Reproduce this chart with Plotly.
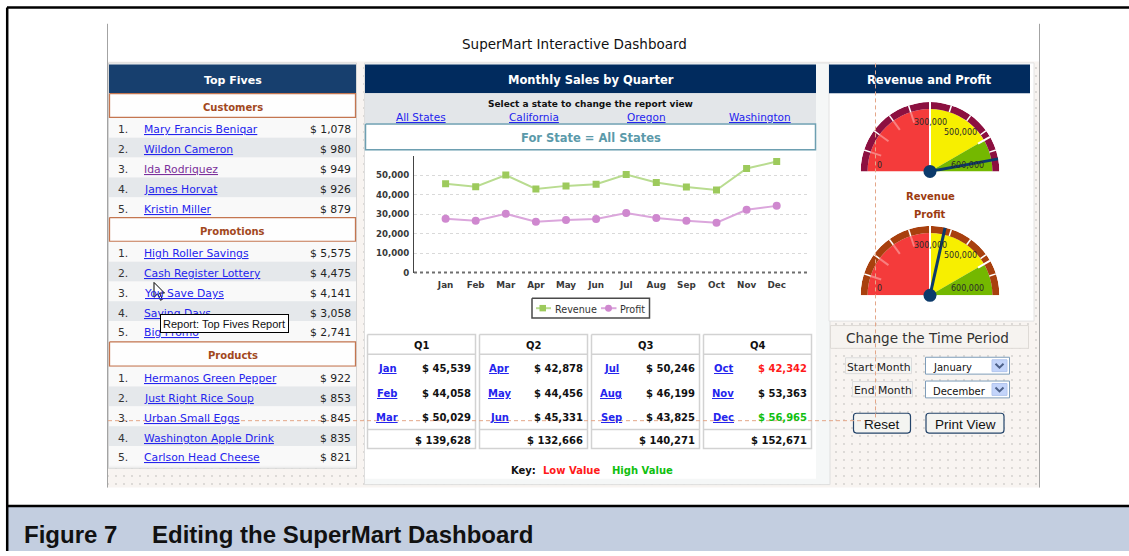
import plotly.graph_objects as go

W, H = 1129, 556

# ---------------- data ----------------
months = ["Jan", "Feb", "Mar", "Apr", "May", "Jun", "Jul", "Aug", "Sep", "Oct", "Nov", "Dec"]
revenue = [45539, 44058, 50029, 42878, 44456, 45331, 50246, 46199, 43825, 42342, 53363, 56965]
profit = [27600, 26600, 30150, 26100, 26950, 27450, 30500, 27950, 26600, 25600, 32200, 34200]
quarters = ["Q1", "Q2", "Q3", "Q4"]
quarter_totals = [139628, 132666, 140271, 152671]
customers = ["Mary Francis Beniqar", "Wildon Cameron", "Ida Rodriquez", "James Horvat", "Kristin Miller"]
customer_sales = [1078, 980, 949, 926, 879]
promotions = ["High Roller Savings", "Cash Register Lottery", "You Save Days", "Saving Days", "Big Promo"]
promotion_sales = [5575, 4475, 4141, 3058, 2741]
products = ["Hermanos Green Pepper", "Just Right Rice Soup", "Urban Small Eggs",
            "Washington Apple Drink", "Carlson Head Cheese"]
product_sales = [922, 853, 845, 835, 821]
states = ["All States", "California", "Oregon", "Washington"]
y_ticks = [0, 10000, 20000, 30000, 40000, 50000]
gauge_max = 600000
gauge_bounds = [0, 300000, 500000, 600000]
gauge_labels = ["0", "300,000", "500,000", "600,000"]
gauge_minor_step = 60000
revenue_total = sum(quarter_totals)
profit_total = sum(profit)

# ---------------- styles ----------------
VERD = "DejaVu Sans, Verdana, sans-serif"
ARIAL = "Liberation Sans, Arial, sans-serif"
NAVY_L = "#173f6e"
NAVY = "#012b5e"
LINK = "#2424ee"
BROWN = "#a2481d"
SECT_BORDER = "#c47650"
DY = 1.5  # visual centring correction for annotation text

fig = go.Figure()
annots = []
shapes = []


def rect(x0, y0, x1, y1, fill, line=None, lw=1.0, pattern=None):
    fig.add_trace(go.Scatter(
        x=[x0, x1, x1, x0, x0], y=[y0, y0, y1, y1, y0], mode="lines", fill="toself",
        fillcolor=fill, fillpattern=pattern,
        line=dict(color=line if line else "rgba(0,0,0,0)", width=lw if line else 0),
        hoverinfo="skip", showlegend=False, xaxis="x", yaxis="y"))


def txt(x, y, s, size=10.8, color="#222", bold=False, anchor="left", family=VERD, under=False, dy=DY):
    annots.append(dict(
        x=x, y=y + dy, xref="x", yref="y", text=s, showarrow=False, xanchor=anchor, yanchor="middle",
        borderpad=0,
        font=dict(family=family, size=size, color=color, weight="bold" if bold else "normal",
                  lineposition="under" if under else "none")))


def seg(x0, y0, x1, y1, color, width=1.0, dash="solid"):
    shapes.append(dict(type="line", x0=x0, y0=y0, x1=x1, y1=y1, xref="x", yref="y",
                       line=dict(color=color, width=width, dash=dash), layer="above"))


def rrect(x0, y0, x1, y1, r, fill, line, lw=1.0):
    p = (f"M {x0+r},{y0} L {x1-r},{y0} Q {x1},{y0} {x1},{y0+r} L {x1},{y1-r} Q {x1},{y1} {x1-r},{y1} "
         f"L {x0+r},{y1} Q {x0},{y1} {x0},{y1-r} L {x0},{y0+r} Q {x0},{y0} {x0+r},{y0} Z")
    shapes.append(dict(type="path", path=p, xref="x", yref="y", fillcolor=fill,
                       line=dict(color=line, width=lw), layer="above"))


def money(v):
    return f"$ {v:,}"


# ---------------- page background pieces ----------------
rect(108, 62, 1039, 492, "#f8f4f1",
     pattern=dict(shape=".", size=8, solidity=0.04, fgcolor="#a9a6a4", bgcolor="#f8f4f1"))

# caption bar
rect(7, 511, 1129, 556, "#c3cee0")

# ---------------- left panel : Top Fives ----------------
rect(108.5, 63.5, 356.5, 472.5, "#f3f3f3", "#d6d6d6", 1)
rect(109, 65, 356, 94, NAVY_L)
txt(232.5, 79.5, "Top Fives", size=11, color="white", bold=True, anchor="center")

sections = [("Customers", customers, customer_sales, 94.5, 119),
            ("Promotions", promotions, promotion_sales, 219.5, 244),
            ("Products", products, product_sales, 345, 370)]
visited = {("Customers", 2)}
for title, names, vals, by, ry in sections:
    rect(109.5, by, 355.5, ry - 0.5, "#fefefe", SECT_BORDER, 1.3)
    txt(232.5, (by + ry) / 2, title, size=10, color=BROWN, bold=True, anchor="center")
    for i, (n, v) in enumerate(zip(names, vals)):
        y0 = ry + 20 * i
        rect(109, y0, 356, y0 + 20, "#f9f9f9" if i % 2 == 0 else "#e5e8eb")
        yc = y0 + 10.5
        txt(117, yc, f"{i+1}.", size=10.8, color="#333")
        col = "#7b2f9b" if (title, i) in visited else LINK
        txt(143, yc, n, size=10.8, color=col, under=True)
        txt(351.5, yc, money(v), size=10.8, color="#222", anchor="right")

# ---------------- middle panel ----------------
rect(364.5, 63.5, 830, 489, "#f5f7f7", "#dedede", 1)
rect(365, 65, 816, 94, NAVY)
txt(590.5, 79.5, "Monthly Sales by Quarter", size=11.5, color="white", bold=True, anchor="center")
rect(365, 94, 816, 124, "#e3e6e9")
txt(590.5, 103, "Select a state to change the report view", size=9, color="#111", bold=True, anchor="center")
for s, xc in zip(states, [421, 534, 646.7, 760]):
    txt(xc, 117, s, size=10.5, color=LINK, anchor="center", under=True)
rect(365, 152, 816, 483, "white")
rect(365.5, 125, 815.5, 151, "white", "#6d9fb1", 1.5)
txt(590.5, 138, "For State = All States", size=11.5, color="#5b9aaa", bold=True, anchor="center")

# legend box (manual)
rect(532, 301, 649.5, 321, "white", "#4a4a4a", 1.5)
seg(536, 311, 551, 311, "#b9dc90", 2)
shapes.append(dict(type="rect", x0=539.5, y0=307.7, x1=546, y1=314.2, xref="x", yref="y",
                   fillcolor="#9dca5c", line=dict(width=0), layer="above"))
txt(553.5, 311, "Revenue", size=9.6, color="#333")
seg(601, 311, 616.5, 311, "#dba6dc", 2)
shapes.append(dict(type="circle", x0=605, y0=307.5, x1=612, y1=314.5, xref="x", yref="y",
                   fillcolor="#cf88cf", line=dict(width=0), layer="above"))
txt(618.5, 311, "Profit", size=9.6, color="#333")

# quarter tables
q_left = [367.5, 479.5, 591.5, 703.5]
qw = 108
row_y = [370.5, 395.5, 420]
lo_i = revenue.index(min(revenue))
hi_i = revenue.index(max(revenue))
for qi, (q, tot) in enumerate(zip(quarters, quarter_totals)):
    x0 = q_left[qi]
    x1 = x0 + qw
    rect(x0, 337.5, x1, 452.5, "white", "#d2d2d2", 1.5)
    seg(x0, 357.5, x1, 357.5, "#d2d2d2", 1.5)
    seg(x0, 433.5, x1, 433.5, "#d2d2d2", 1.5)
    txt((x0 + x1) / 2, 347.5, q, size=10, color="#111", bold=True, anchor="center")
    for j in range(3):
        mi = qi * 3 + j
        txt(x0 + 19.5, row_y[j], months[mi], size=10, color=LINK, bold=True, anchor="center", under=True)
        col = "#ff1a1a" if mi == lo_i else ("#10c010" if mi == hi_i else "#111")
        txt(x1 - 3.5, row_y[j], money(revenue[mi]), size=10, color=col, bold=True, anchor="right")
    txt(x1 - 3.5, 442.5, money(tot), size=10, color="#111", bold=True, anchor="right")

txt(510, 473.5, "Key:", size=10, color="#111", bold=True)
txt(541.5, 473.5, "Low Value", size=10, color="#ff1a1a", bold=True)
txt(611, 473.5, "High Value", size=10, color="#10c010", bold=True)

# ---------------- right panel ----------------
rect(829, 63.5, 1034, 324, "white", "#e2e2e2", 1)
rect(829, 65, 1030, 94, NAVY)
txt(929.5, 79.5, "Revenue and Profit", size=11.5, color="white", bold=True, anchor="center")
txt(930, 197, "Revenue", size=10, color="#9c3b10", bold=True, anchor="center")
txt(930, 214.5, "Profit", size=10, color="#9c3b10", bold=True, anchor="center")

rect(830.5, 328.5, 1028.5, 351.5, "#f6f3f0", "#dedad6", 1)
txt(845, 340, "Change the Time Period", size=13.6, color="#333")
rect(845.5, 361, 911.5, 377, "#f6f4f2", "#dcdcdc", 1)
txt(878.5, 369, "Start Month", size=10.8, color="#222", anchor="center")
rect(852.5, 385, 912.5, 400.5, "#f6f4f2", "#dcdcdc", 1)
txt(882.5, 392.7, "End Month", size=10.8, color="#222", anchor="center")
for (yy0, yy1, label) in [(360.5, 377.5, "January"), (384.5, 401.5, "December")]:
    rect(925.5, yy0, 1009.5, yy1, "white", "#7f9db9", 1)
    rect(992, yy0 + 2.5, 1007, yy1 - 2.5, "#c3d4fa", "#b3c6ee", 1)
    shapes.append(dict(type="path", path=f"M 995.5,{(yy0+yy1)/2-2} L 999.5,{(yy0+yy1)/2+2} L 1003.5,{(yy0+yy1)/2-2}",
                       xref="x", yref="y", line=dict(color="#4d6189", width=2), layer="above"))
    txt(932, (yy0 + yy1) / 2 + 0.5, label, size=10, color="#111")

rrect(853.5, 417, 910.5, 437, 3, "#f4f4f1", "#24446a", 1.2)
rrect(926, 417, 1004, 437, 3, "#f4f4f1", "#24446a", 1.2)
txt(881.5, 427, "Reset", size=13.5, color="#111", anchor="center", family=ARIAL)
txt(965, 427, "Print View", size=13.5, color="#111", anchor="center", family=ARIAL)

# ---------------- line chart ----------------
fig.add_trace(go.Scatter(x=months, y=revenue, mode="lines+markers", name="Revenue",
                         line=dict(color="#b9dc90", width=2),
                         marker=dict(symbol="square", size=7, color="#9dca5c"),
                         xaxis="x2", yaxis="y2", hoverinfo="skip", showlegend=False))
fig.add_trace(go.Scatter(x=months, y=profit, mode="lines+markers", name="Profit",
                         line=dict(color="#dba6dc", width=2),
                         marker=dict(symbol="circle", size=8, color="#cf88cf"),
                         xaxis="x2", yaxis="y2", hoverinfo="skip", showlegend=False))
seg(414, 275, 808, 275, "#6e6e6e", 2, "dot")

# ---------------- gauges ----------------
zone_colors = ["#f43b3b", "#f7ef00", "#74b800"]
k = 180.0 / gauge_max


def gauge(sub, value, rim):
    lo = gauge_bounds[:-1]
    hi = gauge_bounds[1:]
    fig.add_trace(go.Barpolar(r=[0.9] * len(lo), base=[0] * len(lo),
                              theta=[(a + b) / 2 * k for a, b in zip(lo, hi)],
                              width=[(b - a) * k for a, b in zip(lo, hi)],
                              marker=dict(color=zone_colors, line=dict(width=0)),
                              subplot=sub, hoverinfo="skip", showlegend=False))
    fig.add_trace(go.Barpolar(r=[0.1], base=[0.9], theta=[gauge_max / 2 * k], width=[gauge_max * k],
                              marker=dict(color=rim, line=dict(width=0)),
                              subplot=sub, hoverinfo="skip", showlegend=False))
    rr, tt, rs, ts = [], [], [], []
    v = gauge_minor_step
    while v < gauge_max:
        rr += [0.9, 1.0, None]
        tt += [v * k, v * k, None]
        if v < gauge_bounds[1]:
            rs += [0.74, 0.9, None]
            ts += [v * k, v * k, None]
        v += gauge_minor_step
    fig.add_trace(go.Scatterpolar(r=rs, theta=ts, mode="lines", line=dict(color="rgba(255,255,255,0.35)", width=2),
                                  subplot=sub, hoverinfo="skip", showlegend=False))
    fig.add_trace(go.Scatterpolar(r=rr, theta=tt, mode="lines", line=dict(color="white", width=1.5),
                                  subplot=sub, hoverinfo="skip", showlegend=False))
    fig.add_trace(go.Scatterpolar(r=[0.0, 1.0, None, 0.8, 1.0], theta=[gauge_bounds[1] * k] * 2 + [None] + [gauge_bounds[2] * k] * 2,
                                  mode="lines", line=dict(color="white", width=2),
                                  subplot=sub, hoverinfo="skip", showlegend=False, connectgaps=False))
    fig.add_trace(go.Scatterpolar(r=[0, 1.0], theta=[value * k, value * k], mode="lines",
                                  line=dict(color="#0c3a6b", width=3),
                                  subplot=sub, hoverinfo="skip", showlegend=False))
    fig.add_trace(go.Scatterpolar(r=[0], theta=[0], mode="markers",
                                  marker=dict(size=13, color="#0c3a6b"),
                                  subplot=sub, hoverinfo="skip", showlegend=False))


gauge("polar", revenue_total, "#8c1040")
gauge("polar2", profit_total, "#a8400e")

label_pos = [(879.5, 0), (930, -43.5), (960, -34), (967, 0)]
for gy in [166, 290]:
    for (lx, dy), lab in zip(label_pos, gauge_labels):
        txt(lx, gy + dy, lab, size=8, color="#2a2a2a", anchor="center")

# ---------------- frame, title, guides ----------------
txt(574, 43, "SuperMart Interactive Dashboard", size=13.5, color="#111", anchor="center")
seg(107.5, 24, 107.5, 492, "#a3a3a3", 1)
seg(1039.5, 24, 1039.5, 492, "#a3a3a3", 1)
seg(108, 424.5, 875.5, 424.5, "#e4a688", 1, "4px,3px")
seg(875.5, 64, 875.5, 424.5, "#e4a688", 1, "4px,3px")

# tooltip + cursor
pc = "M 154,285 L 154,300 L 157.5,296.5 L 160.5,303 L 162.5,302 L 159.5,295.7 L 164.5,295.7 Z"
shapes.append(dict(type="path", path=pc, xref="x", yref="y", fillcolor="white",
                   line=dict(color="black", width=1), layer="above"))
annots.append(dict(x=160, y=326.5, xref="x", yref="y", text="Report: Top Fives Report", showarrow=False,
                   xanchor="left", yanchor="middle", bgcolor="white", bordercolor="black", borderwidth=1,
                   borderpad=2, width=123, height=13, align="left",
                   font=dict(family=ARIAL, size=11, color="#111")))

# outer border (top and left only) & caption
seg(7, 7.5, 1129, 7.5, "black", 2.5)
seg(7.2, 7.5, 7.2, 556, "black", 2.5)
seg(7, 510.5, 1129, 510.5, "black", 2.5)
txt(23, 536, "Figure 7", size=24, color="#111", bold=True, family=ARIAL, dy=3.5)
txt(151, 536, "Editing the SuperMart Dashboard", size=24, color="#111", bold=True, family=ARIAL, dy=3.5)

# ---------------- layout ----------------
polar_common = dict(sector=[0, 180], bgcolor="rgba(0,0,0,0)", hole=0, barmode="overlay",
                    radialaxis=dict(range=[0, 1], visible=False),
                    angularaxis=dict(visible=False, rotation=180, direction="clockwise"))
fig.update_layout(
    width=W, height=H, margin=dict(l=0, r=0, t=0, b=0),
    paper_bgcolor="white", plot_bgcolor="rgba(0,0,0,0)", showlegend=False, dragmode=False,
    xaxis=dict(domain=[0, 1], range=[0, W], visible=False, fixedrange=True),
    yaxis=dict(domain=[0, 1], range=[H, 0], visible=False, fixedrange=True),
    xaxis2=dict(domain=[414 / W, 808 / W], anchor="y2", type="category", range=[-1.05, 12.04],
                showgrid=False, zeroline=False, showline=False, ticks="", ticklabelstandoff=6,
                tickfont=dict(family=VERD, size=8.8, color="#3a3a3a", weight="bold"), fixedrange=True),
    yaxis2=dict(domain=[1 - 275 / H, 1 - 157 / H], anchor="x2", range=[0, 60000],
                tickvals=y_ticks, tickformat=",", showgrid=True, gridcolor="#d9d9d9", griddash="dot",
                gridwidth=1, zeroline=False, showline=True, linecolor="#444", linewidth=1, ticks="",
                ticklabelstandoff=2, tickfont=dict(family=VERD, size=8.6, color="#3a3a3a", weight="bold"),
                fixedrange=True),
    polar=dict(domain=dict(x=[860 / W, 1000 / W], y=[1 - 173 / H, 1 - 103 / H]), **polar_common),
    polar2=dict(domain=dict(x=[860 / W, 1000 / W], y=[1 - 298 / H, 1 - 228 / H]), **polar_common),
    annotations=annots, shapes=shapes,
)

fig.write_html("out.html", config={"displayModeBar": False},
               post_script="document.body.style.margin='0px';document.body.style.overflow='hidden';")
